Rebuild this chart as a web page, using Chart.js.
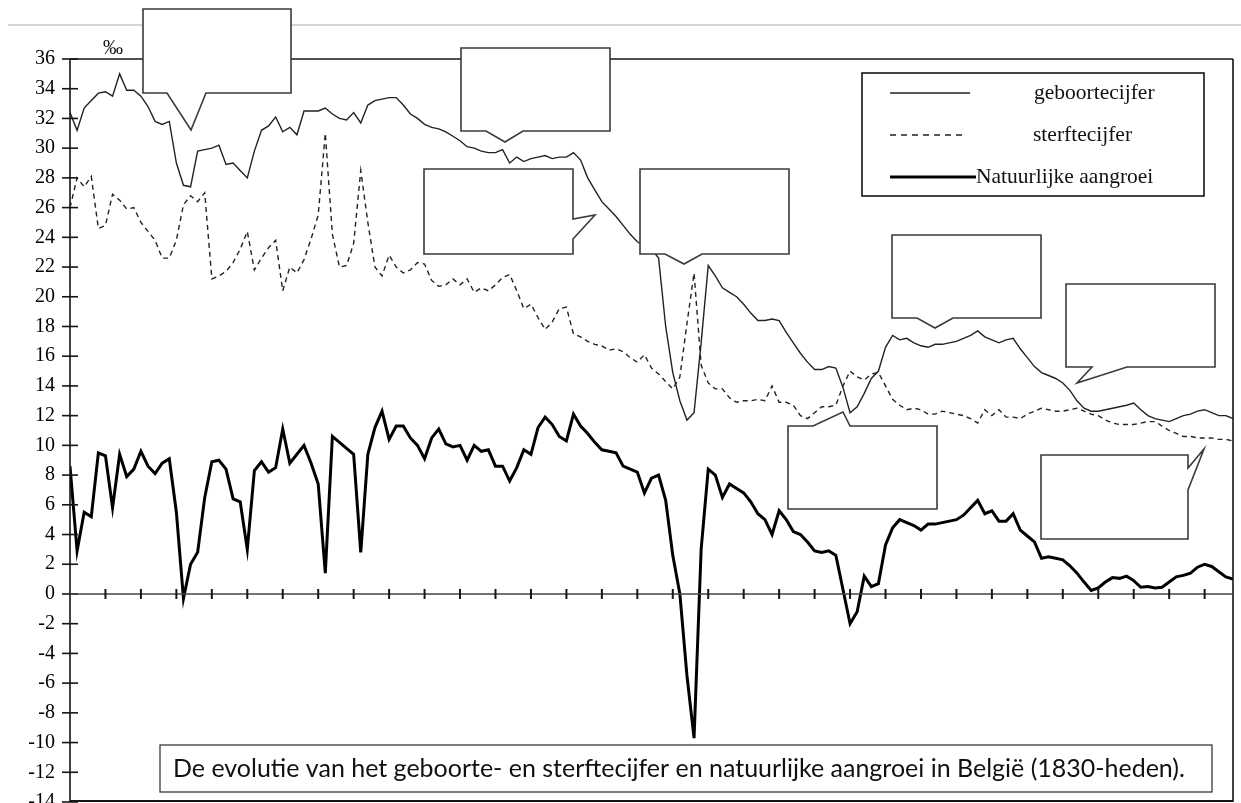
<!DOCTYPE html>
<html>
<head>
<meta charset="utf-8">
<title>Geboorte- en sterftecijfer België</title>
<script src="https://cdn.jsdelivr.net/npm/chart.js@4.4.1/dist/chart.umd.min.js"></script>
<style>
  html, body { margin: 0; padding: 0; background: #fff; }
  #wrap { width: 1241px; height: 803px; }
</style>
</head>
<body>
<div id="wrap"><canvas id="chart" width="1241" height="803"></canvas></div>
<script>
// jaren 1830 - 1994
var years = [];
for (var yr = 1830; yr <= 1994; yr++) years.push(yr);

// geboortecijfer (promille), per jaar
var geboorte = [
  32.4, 31.2, 32.7, 33.2, 33.7, 33.8, 33.5, 35.0, 33.9, 33.9,
  33.5, 32.8, 31.8, 31.6, 31.8, 29.0, 27.5, 27.4, 29.8, 29.9,
  30.0, 30.2, 28.9, 29.0, 28.5, 28.0, 29.8, 31.2, 31.5, 32.1,
  31.1, 31.4, 30.9, 32.5, 32.5, 32.5, 32.7, 32.3, 32.0, 31.9,
  32.4, 31.7, 32.9, 33.2, 33.3, 33.4, 33.4, 32.9, 32.3, 32.0,
  31.6, 31.4, 31.3, 31.1, 30.8, 30.5, 30.1, 30.0, 29.8, 29.7,
  29.7, 29.9, 29.0, 29.4, 29.1, 29.3, 29.4, 29.5, 29.3, 29.4,
  29.4, 29.7, 29.2, 28.0, 27.2, 26.4, 25.9, 25.4, 24.8, 24.2,
  23.7, 23.4, 23.2, 22.6, 18.0, 14.9, 13.0, 11.7, 12.2, 16.9,
  22.1, 21.4, 20.6, 20.3, 20.0, 19.5, 18.9, 18.4, 18.4, 18.5,
  18.4, 17.6, 16.9, 16.2, 15.6, 15.1, 15.1, 15.3, 15.2, 13.9,
  12.2, 12.6, 13.5, 14.5, 15.0, 16.6, 17.4, 17.1, 17.2, 16.9,
  16.7, 16.6, 16.8, 16.8, 16.9, 17.0, 17.2, 17.4, 17.7, 17.3,
  17.1, 16.9, 17.1, 17.2, 16.5, 15.9, 15.3, 14.9, 14.7, 14.5,
  14.2, 13.7, 13.0, 12.5, 12.3, 12.3, 12.4, 12.5, 12.6, 12.7,
  12.85, 12.4, 12.0, 11.8, 11.7, 11.6, 11.8, 12.0, 12.1, 12.3,
  12.4, 12.2, 12.0, 12.0, 11.8
];

// sterftecijfer (promille), per jaar
var sterfte = [
  26.0, 28.0, 27.4, 28.1, 24.6, 24.8, 26.9, 26.5, 25.9, 26.0,
  25.0, 24.4, 23.8, 22.6, 22.6, 23.8, 26.2, 26.8, 26.4, 27.0,
  21.2, 21.4, 21.7, 22.3, 23.2, 24.4, 21.8, 22.6, 23.3, 23.8,
  20.4, 22.0, 21.6, 22.5, 23.9, 25.5, 31.0, 24.2, 22.0, 22.1,
  23.6, 28.5, 25.0, 22.0, 21.4, 22.8, 22.0, 21.6, 21.8, 22.3,
  22.2, 21.1, 20.7, 20.8, 21.2, 20.8, 21.2, 20.3, 20.6, 20.4,
  20.8, 21.3, 21.5, 20.4, 19.2, 19.5, 18.6, 17.8, 18.3, 19.2,
  19.3, 17.5, 17.3, 17.0, 16.8, 16.7, 16.4, 16.5, 16.3, 15.9,
  15.6, 16.1, 15.2, 14.8, 14.3, 13.8, 14.6, 18.2, 21.6, 15.4,
  14.2, 13.8, 13.8, 13.2, 12.9, 13.0, 13.0, 13.1, 13.0, 14.0,
  12.9, 12.9, 12.7, 12.0, 11.8, 12.2, 12.6, 12.6, 12.7, 14.0,
  15.0, 14.6, 14.4, 14.8, 14.9, 14.0, 13.1, 12.7, 12.4, 12.5,
  12.4, 12.1, 12.1, 12.3, 12.2, 12.1, 12.0, 11.8, 11.5, 12.4,
  12.0, 12.4, 11.9, 11.9, 11.8, 12.1, 12.3, 12.5, 12.4, 12.3,
  12.3, 12.4, 12.5, 12.3, 12.1, 12.0, 11.7, 11.5, 11.4, 11.4,
  11.4, 11.5, 11.6, 11.6, 11.3, 11.0, 10.8, 10.6, 10.6, 10.5,
  10.5, 10.5, 10.4, 10.4, 10.3
];

// natuurlijke aangroei (promille), per jaar
var aangroei = [
  8.6, 2.9, 5.5, 5.2, 9.5, 9.3, 5.8, 9.4, 7.9, 8.4,
  9.6, 8.6, 8.1, 8.8, 9.1, 5.5, -0.3, 2.0, 2.8, 6.5,
  8.9, 9.0, 8.4, 6.4, 6.2, 3.0, 8.3, 8.9, 8.2, 8.5,
  11.1, 8.8, 9.4, 10.0, 8.8, 7.4, 1.4, 10.6, 10.2, 9.8,
  9.4, 2.8, 9.4, 11.2, 12.3, 10.4, 11.3, 11.3, 10.5, 10.0,
  9.1, 10.5, 11.1, 10.1, 9.9, 10.0, 9.0, 10.0, 9.6, 9.7,
  8.6, 8.6, 7.6, 8.5, 9.7, 9.4, 11.2, 11.9, 11.4, 10.6,
  10.3, 12.1, 11.3, 10.8, 10.2, 9.7, 9.6, 9.5, 8.6, 8.4,
  8.2, 6.8, 7.8, 8.0, 6.3, 2.6, 0.0, -5.5, -9.7, 3.0,
  8.4, 8.0, 6.5, 7.4, 7.1, 6.8, 6.2, 5.4, 5.0, 4.0,
  5.6, 5.0, 4.2, 4.0, 3.5, 2.9, 2.8, 2.9, 2.6, 0.3,
  -2.0, -1.2, 1.2, 0.5, 0.7, 3.3, 4.45, 5.0, 4.8, 4.6,
  4.3, 4.7, 4.7, 4.8, 4.9, 5.0, 5.3, 5.8, 6.3, 5.4,
  5.6, 4.9, 4.9, 5.4, 4.3, 3.9, 3.5, 2.4, 2.5, 2.4,
  2.3, 1.9, 1.4, 0.8, 0.24, 0.4, 0.8, 1.1, 1.05, 1.2,
  0.9, 0.45, 0.5, 0.4, 0.45, 0.8, 1.15, 1.25, 1.4, 1.8,
  2.0, 1.85, 1.5, 1.15, 1.0
];

var seriesNames = ["geboortecijfer", "sterftecijfer", "Natuurlijke aangroei"];
var yMin = -14, yMax = 36, yStep = 2;
var caption = "De evolutie van het geboorte- en sterftecijfer en natuurlijke aangroei in België (1830-heden).";

function points(values) {
  return values.map(function(v, i) { return { x: years[i], y: v }; });
}

var serif = '"Liberation Serif", "DejaVu Serif", serif';

// lege tekstballonnen (invulkaders)
var balloons = [
  [[143,9],[291,9],[291,93],[206,93],[191,130],[167,93],[143,93]],
  [[461,48],[610,48],[610,131],[523,131],[505,142],[486,131],[461,131]],
  [[424,169],[573,169],[573,219],[595,215],[573,239],[573,254],[424,254]],
  [[640,169],[789,169],[789,254],[702,254],[684,264],[665,254],[640,254]],
  [[892,235],[1041,235],[1041,318],[953,318],[935,328],[917,318],[892,318]],
  [[1066,284],[1215,284],[1215,367],[1127,367],[1077,383],[1092,367],[1066,367]],
  [[788,426],[813,426],[843,412],[850,426],[937,426],[937,509],[788,509]],
  [[1041,455],[1188,455],[1188,468],[1204,449],[1188,490],[1188,539],[1041,539]]
];

function seg(ctx, x1, y1, x2, y2) {
  ctx.beginPath();
  ctx.moveTo(x1, y1);
  ctx.lineTo(x2, y2);
  ctx.stroke();
}

var decor = {
  id: "decor",
  afterDraw: function(chart) {
    var ctx = chart.ctx, a = chart.chartArea;
    var xs = chart.scales.x, ys = chart.scales.y;
    ctx.save();

    // grijze lijn bovenaan
    ctx.strokeStyle = "#d6d6d6";
    ctx.lineWidth = 2;
    seg(ctx, 8, 25, 1241, 25);

    // kader
    ctx.strokeStyle = "#151515";
    ctx.lineWidth = 1.6;
    seg(ctx, a.left, a.top, a.right, a.top);
    seg(ctx, a.right, a.top, a.right, a.bottom);
    seg(ctx, a.left, a.top, a.left, a.bottom);
    ctx.lineWidth = 2.2;
    seg(ctx, a.left, a.bottom - 1, a.right, a.bottom - 1);

    // streepjes op de y-as
    ctx.lineWidth = 1.6;
    ys.ticks.forEach(function(t) {
      var y = ys.getPixelForValue(t.value);
      seg(ctx, a.left - 8, y, a.left + 8, y);
    });

    // nullijn met jaarstreepjes
    var y0 = ys.getPixelForValue(0);
    ctx.strokeStyle = "#444";
    ctx.lineWidth = 1.5;
    seg(ctx, a.left, y0, a.right, y0);
    ctx.strokeStyle = "#151515";
    ctx.lineWidth = 2;
    for (var v = xs.min + 5; v < xs.max; v += 5) {
      var x = xs.getPixelForValue(v);
      seg(ctx, x, y0 - 5, x, y0 + 5);
    }

    // promilleteken
    ctx.fillStyle = "#151515";
    ctx.font = "20px " + serif;
    ctx.textAlign = "left";
    ctx.textBaseline = "alphabetic";
    ctx.fillText("\u2030", 103, 54);

    // legende
    ctx.fillStyle = "#fff";
    ctx.fillRect(862, 73, 342, 123);
    ctx.strokeStyle = "#151515";
    ctx.lineWidth = 1.6;
    ctx.strokeRect(862, 73, 342, 123);
    ctx.strokeStyle = "#222";
    ctx.lineWidth = 1.3;
    seg(ctx, 890, 93, 970, 93);
    ctx.setLineDash([6, 5]);
    seg(ctx, 890, 135, 964, 135);
    ctx.setLineDash([]);
    ctx.strokeStyle = "#000";
    ctx.lineWidth = 3;
    seg(ctx, 890, 177, 976, 177);
    ctx.fillStyle = "#111";
    ctx.font = "21.5px " + serif;
    ctx.textBaseline = "middle";
    ctx.fillText(seriesNames[0], 1034, 93);
    ctx.fillText(seriesNames[1], 1033, 135);
    ctx.fillText(seriesNames[2], 976, 177);

    // tekstballonnen
    ctx.strokeStyle = "#3a3a3a";
    ctx.lineWidth = 1.6;
    ctx.lineJoin = "miter";
    balloons.forEach(function(p) {
      ctx.beginPath();
      ctx.moveTo(p[0][0], p[0][1]);
      for (var i = 1; i < p.length; i++) ctx.lineTo(p[i][0], p[i][1]);
      ctx.closePath();
      ctx.fillStyle = "#fff";
      ctx.fill();
      ctx.stroke();
    });

    // onderschrift
    ctx.fillStyle = "#fff";
    ctx.fillRect(160, 745, 1052, 47);
    ctx.strokeStyle = "#3a3a3a";
    ctx.lineWidth = 1.3;
    ctx.strokeRect(160, 745, 1052, 47);
    ctx.font = "22px Lato";
    var size = 22 * 1012 / ctx.measureText(caption).width;
    ctx.font = size.toFixed(2) + "px Lato";
    ctx.fillStyle = "#111";
    ctx.textBaseline = "alphabetic";
    ctx.fillText(caption, 173, 777);

    ctx.restore();
  }
};

new Chart(document.getElementById("chart"), {
  type: "line",
  data: {
    datasets: [
      {
        label: seriesNames[0],
        data: points(geboorte),
        borderColor: "#222",
        borderWidth: 1.4
      },
      {
        label: seriesNames[1],
        data: points(sterfte),
        borderColor: "#222",
        borderWidth: 1.4,
        borderDash: [5, 4]
      },
      {
        label: seriesNames[2],
        data: points(aangroei),
        borderColor: "#000",
        borderWidth: 3
      }
    ]
  },
  options: {
    responsive: false,
    devicePixelRatio: 1,
    animation: false,
    elements: {
      point: { radius: 0 },
      line: { tension: 0, fill: false }
    },
    layout: { padding: { left: 0, right: 8, top: 59, bottom: 1 } },
    plugins: {
      legend: { display: false },
      tooltip: { enabled: false }
    },
    scales: {
      x: {
        type: "linear",
        min: 1830,
        max: 1994,
        display: false
      },
      y: {
        min: yMin,
        max: yMax,
        grid: { display: false, drawTicks: false },
        border: { display: false },
        ticks: {
          stepSize: yStep,
          padding: 15,
          color: "#000",
          font: { family: serif, size: 20 }
        },
        afterFit: function(scale) {
          scale.width = 70;
          scale.paddingTop = 0;
          scale.paddingBottom = 0;
        }
      }
    }
  },
  plugins: [decor]
});
</script>
</body>
</html>
